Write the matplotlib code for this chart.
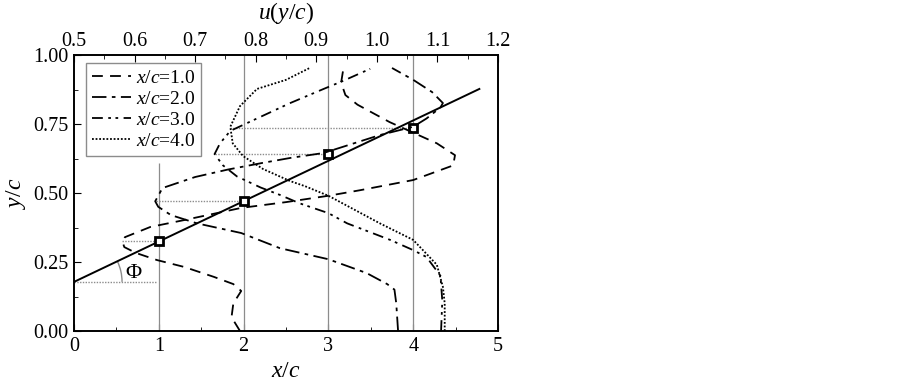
"""Wake velocity profiles u(y/c) at several downstream stations."""

import numpy as np
import matplotlib
matplotlib.use("Agg")
import matplotlib.pyplot as plt
from matplotlib.patches import Arc
from matplotlib.ticker import MultipleLocator

plt.rcParams["font.family"] = ["Liberation Serif", "DejaVu Serif"]
plt.rcParams["mathtext.fontset"] = "custom"
plt.rcParams["mathtext.rm"] = "Liberation Serif"
plt.rcParams["mathtext.it"] = "Liberation Serif:italic"

# profiles: y/c and u(y/c)
Y_1 = [0.0, 0.05, 0.10, 0.145, 0.17, 0.196, 0.232, 0.257, 0.283, 0.304, 0.323,
       0.34, 0.377, 0.402, 0.446, 0.467, 0.49, 0.51, 0.547, 0.60, 0.637, 0.68,
       0.757, 0.82, 0.855, 0.90, 0.955]
U_1 = [0.774, 0.760, 0.763, 0.776, 0.763, 0.731, 0.682, 0.637, 0.602, 0.583, 0.580,
       0.584, 0.626, 0.682, 0.776, 0.850, 0.920, 0.972, 1.060, 1.126, 1.129, 1.099,
       1.021, 0.968, 0.948, 0.941, 0.945]

Y_2 = [0.0, 0.10, 0.15, 0.17, 0.21, 0.26, 0.30, 0.355, 0.39, 0.42, 0.45, 0.47,
       0.518, 0.558, 0.585, 0.609, 0.627, 0.645, 0.71, 0.74, 0.77, 0.81, 0.826,
       0.866, 0.91, 0.953]
U_2 = [1.035, 1.032, 1.029, 1.017, 0.983, 0.920, 0.840, 0.776, 0.703, 0.660, 0.639, 0.634,
       0.646, 0.700, 0.754, 0.811, 0.857, 0.912, 1.005, 1.060, 1.082, 1.105, 1.109,
       1.091, 1.060, 1.025]

Y_3 = [0.0, 0.11, 0.20, 0.268, 0.293, 0.33, 0.39, 0.427, 0.463, 0.493, 0.52, 0.56,
       0.60, 0.641, 0.68, 0.725, 0.77, 0.826, 0.877, 0.906, 0.95]
U_3 = [1.106, 1.108, 1.105, 1.082, 1.060, 1.022, 0.951, 0.920, 0.872, 0.840, 0.808, 0.769,
       0.746, 0.732, 0.741, 0.758, 0.802, 0.857, 0.912, 0.944, 0.989]

Y_4 = [0.0, 0.10, 0.16, 0.24, 0.33, 0.39, 0.49, 0.525, 0.543, 0.587, 0.634, 0.68,
       0.74, 0.815, 0.877, 0.91, 0.953]
U_4 = [1.112, 1.112, 1.109, 1.099, 1.060, 1.005, 0.920, 0.881, 0.857, 0.812, 0.779, 0.762,
       0.758, 0.774, 0.802, 0.850, 0.889]

STATIONS = ["1.0", "2.0", "3.0", "4.0"]

# wake centre (minimum of each profile) and the fitted centre line
CENTRE_X = [1, 2, 3, 4]
CENTRE_Y = [0.325, 0.47, 0.641, 0.735]
CENTRE_MIN_X = [0.57, 0.97, 1.66, 1.84]
FIT_X = [0.0, 4.78]
FIT_Y = [0.178, 0.877]

fig = plt.figure(figsize=(9.03, 3.82), dpi=100)
ax = fig.add_axes([0.082, 0.1335, 0.4695, 0.7225])
ax.set_xlim(0, 5)
ax.set_ylim(0, 1)

grey = "#8c8c8c"
ax.vlines(1, 0, 0.61, color=grey, lw=0.9)
ax.vlines(CENTRE_X[1:], 0, 1, color=grey, lw=0.9)
ax.hlines(CENTRE_Y, CENTRE_MIN_X, CENTRE_X, color=grey, lw=1.0, linestyles=(0, (1, 1)))
ax.hlines(FIT_Y[0], 0, 0.97, color=grey, lw=1.0, linestyles=(0, (1, 1)))

ax.plot(FIT_X, FIT_Y, color="black", lw=1.4, zorder=3)
ax.plot(CENTRE_X, CENTRE_Y, ls="none", marker="s", ms=5.5, mfc="white",
        mec="black", mew=2.0, zorder=4)

# angle of the centre line
slope = (FIT_Y[1] - FIT_Y[0]) / (FIT_X[1] - FIT_X[0])
arc = Arc((0, FIT_Y[0]), 2 * 0.566, 2 * 0.174, theta1=0,
          theta2=np.degrees(np.arctan(slope)), color=grey, lw=1.0)
ax.add_patch(arc)
ax.text(0.6, 0.21, "\u03a6", fontsize=16, va="center", ha="left")

ax.xaxis.set_major_locator(MultipleLocator(1))
ax.xaxis.set_minor_locator(MultipleLocator(0.5))
ax.yaxis.set_major_locator(MultipleLocator(0.25))
ax.yaxis.set_minor_locator(MultipleLocator(0.125))
ax.yaxis.set_major_formatter(lambda v, pos: f"{v:.2f}")
ax.tick_params(which="both", direction="in", top=False, right=False, labelsize=14.5)
ax.tick_params(which="major", length=5, pad=4)
ax.tick_params(which="minor", length=3)
ax.set_xlabel(r"$x/c$", fontsize=17, labelpad=4)
ax.set_ylabel(r"$y/c$", fontsize=17, labelpad=4)

ax_top = ax.twiny()
ax_top.set_xlim(0.5, 1.2)
ax_top.xaxis.set_major_locator(MultipleLocator(0.1))
ax_top.xaxis.set_minor_locator(MultipleLocator(0.05))
ax_top.xaxis.set_major_formatter(lambda v, pos: f"{v:.1f}")
ax_top.tick_params(which="both", direction="in", bottom=False, labelsize=14.5)
ax_top.tick_params(which="major", length=5, pad=3)
ax_top.tick_params(which="minor", length=3)
ax_top.set_xlabel(r"$u$($y/c$)", fontsize=17, labelpad=9)

styles = [(0, (6, 4)), (0, (8, 3, 2, 3)), (0, (6, 3, 1.5, 2.5, 1.5, 3)), (0, (1, 1))]
profiles = [(U_1, Y_1), (U_2, Y_2), (U_3, Y_3), (U_4, Y_4)]
for (u, y), st, name in zip(profiles, styles, STATIONS):
    ax_top.plot(u, y, color="black", lw=1.3, ls=st, label=rf"$x/c$={name}")

leg = ax_top.legend(loc="upper left", bbox_to_anchor=(0.028, 0.97), fontsize=14,
                    handlelength=2.0, handletextpad=0.25, labelspacing=0.18,
                    borderpad=0.3, borderaxespad=0, fancybox=False, framealpha=1)
leg.get_frame().set_edgecolor(grey)
leg.get_frame().set_linewidth(1.0)

for a in (ax, ax_top):
    for s in a.spines.values():
        s.set_linewidth(1.2)

fig.savefig("out.png", dpi=100)
